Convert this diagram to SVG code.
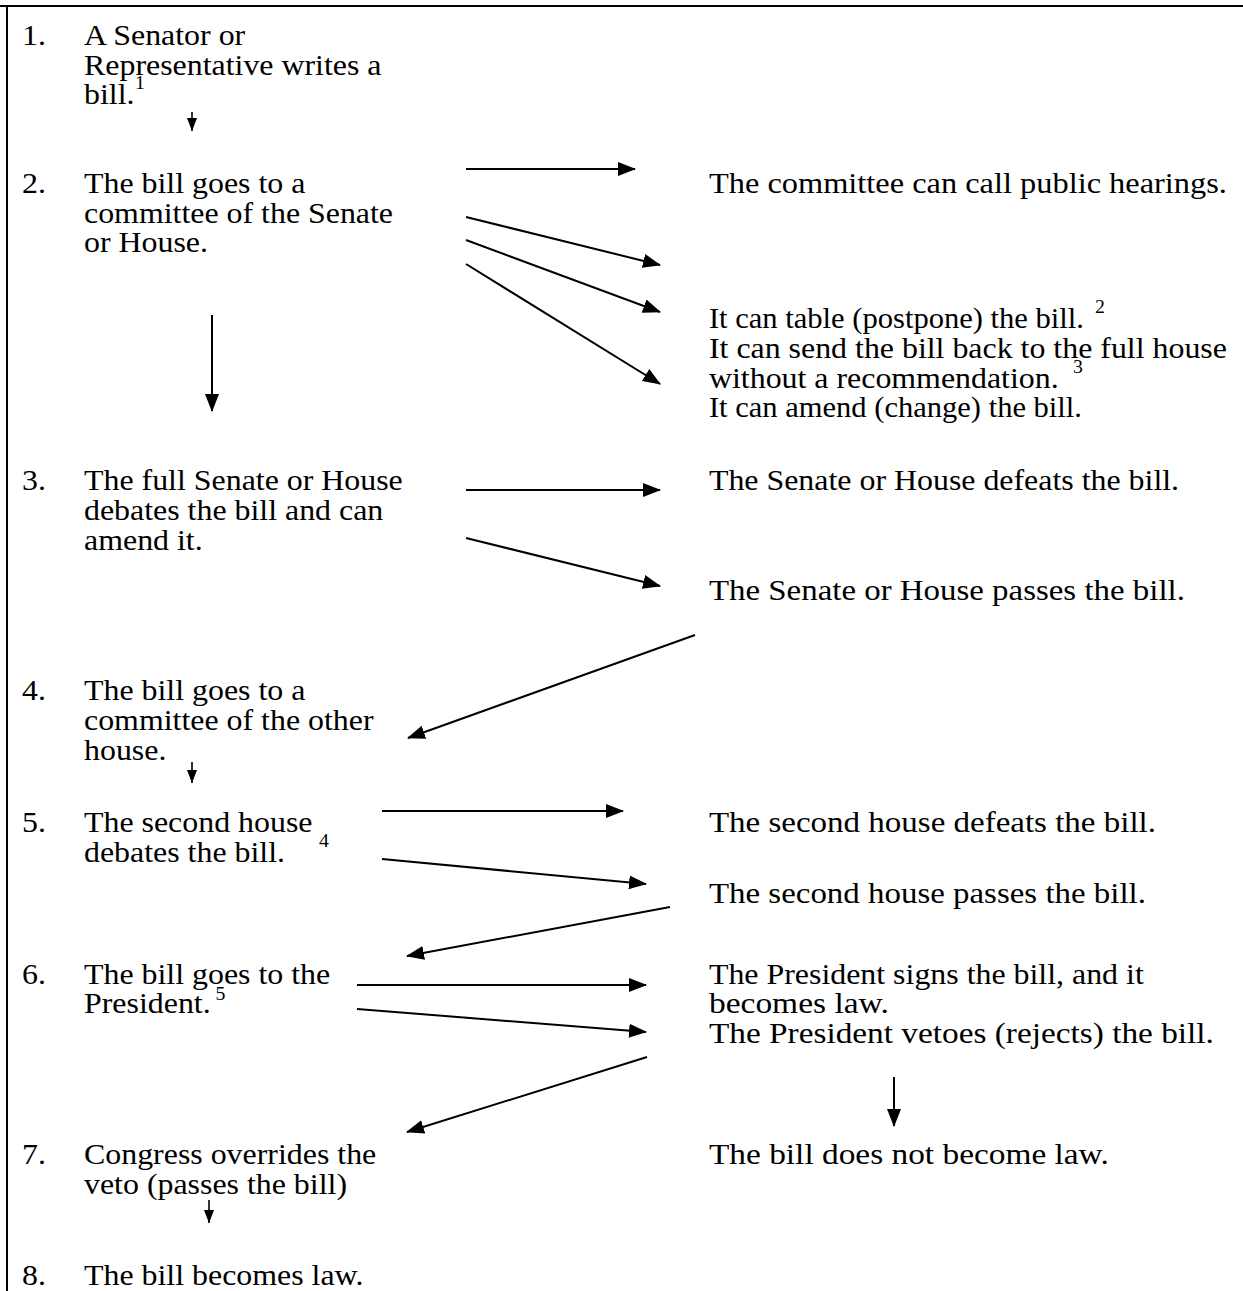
<svg xmlns="http://www.w3.org/2000/svg" width="1243" height="1291" viewBox="0 0 1243 1291">
<style>
text{font-family:"Liberation Serif","Times New Roman",serif;font-size:29px;fill:#000}
.sup{font-size:18px}
.c line{stroke:#000;stroke-width:2;fill:none}
.c line.small{stroke-width:1.6}
.big{marker-end:url(#ah)}
.small{marker-end:url(#as)}
</style>
<defs>
<marker id="ah" markerUnits="userSpaceOnUse" markerWidth="18" markerHeight="16" refX="17" refY="7" orient="auto" viewBox="0 0 18 14">
<path d="M0,0 L18,7 L0,14 Z" fill="#000"/>
</marker>
<marker id="as" markerUnits="userSpaceOnUse" markerWidth="13" markerHeight="12" refX="13" refY="5" orient="auto" viewBox="0 0 13 10">
<path d="M0,0 L13,5 L0,10 Z" fill="#000"/>
</marker>
</defs>
<rect width="1243" height="1291" fill="#fff"/>
<g id="frame">
<line x1="0" y1="6" x2="1243" y2="6" stroke="#000" stroke-width="2"/>
<line x1="7" y1="5" x2="7" y2="1291" stroke="#000" stroke-width="2"/>
</g>
<g id="text-layer" transform="scale(1.1 1)">
<g id="step1">
<text x="20" y="45">1.</text>
<text x="76.4" y="45">A Senator or</text>
<text x="76.4" y="75">Representative writes a</text>
<text x="76.4" y="104">bill.</text>
<text class="sup" x="122.7" y="89">1</text>
</g>
<g id="step2">
<text x="20" y="193">2.</text>
<text x="76.4" y="193">The bill goes to a</text>
<text x="76.4" y="223">committee of the Senate</text>
<text x="76.4" y="252">or House.</text>
</g>
<g id="hearings"><text x="644.5" y="193" textLength="470.9" lengthAdjust="spacingAndGlyphs">The committee can call public hearings.</text></g>
<g id="committee-options">
<text x="644.5" y="328" textLength="340.9" lengthAdjust="spacingAndGlyphs">It can table (postpone) the bill.</text>
<text class="sup" x="995.5" y="313">2</text>
<text x="644.5" y="358">It can send the bill back to the full house</text>
<text x="644.5" y="388">without a recommendation.</text>
<text class="sup" x="975.5" y="373">3</text>
<text x="644.5" y="417" textLength="339.1" lengthAdjust="spacingAndGlyphs">It can amend (change) the bill.</text>
</g>
<g id="step3">
<text x="20" y="490">3.</text>
<text x="76.4" y="490">The full Senate or House</text>
<text x="76.4" y="520">debates the bill and can</text>
<text x="76.4" y="550">amend it.</text>
</g>
<g id="defeat1"><text x="644.5" y="490">The Senate or House defeats the bill.</text></g>
<g id="pass1"><text x="644.5" y="600" textLength="432.7" lengthAdjust="spacingAndGlyphs">The Senate or House passes the bill.</text></g>
<g id="step4">
<text x="20" y="700">4.</text>
<text x="76.4" y="700">The bill goes to a</text>
<text x="76.4" y="730">committee of the other</text>
<text x="76.4" y="760">house.</text>
</g>
<g id="step5">
<text x="20" y="832">5.</text>
<text x="76.4" y="832">The second house</text>
<text x="76.4" y="862">debates the bill.</text>
<text class="sup" x="290" y="847">4</text>
</g>
<g id="defeat2"><text x="644.5" y="832" textLength="406.4" lengthAdjust="spacingAndGlyphs">The second house defeats the bill.</text></g>
<g id="pass2"><text x="644.5" y="903" textLength="397.3" lengthAdjust="spacingAndGlyphs">The second house passes the bill.</text></g>
<g id="step6">
<text x="20" y="984">6.</text>
<text x="76.4" y="984">The bill goes to the</text>
<text x="76.4" y="1013">President.</text>
<text class="sup" x="196" y="1000">5</text>
</g>
<g id="signs">
<text x="644.5" y="984">The President signs the bill, and it</text>
<text x="644.5" y="1013" textLength="163.6" lengthAdjust="spacingAndGlyphs">becomes law.</text>
</g>
<g id="vetoes"><text x="644.5" y="1043" textLength="459.1" lengthAdjust="spacingAndGlyphs">The President vetoes (rejects) the bill.</text></g>
<g id="step7">
<text x="20" y="1164">7.</text>
<text x="76.4" y="1164">Congress overrides the</text>
<text x="76.4" y="1194">veto (passes the bill)</text>
</g>
<g id="notlaw"><text x="644.5" y="1164" textLength="363.6" lengthAdjust="spacingAndGlyphs">The bill does not become law.</text></g>
<g id="step8">
<text x="20" y="1285">8.</text>
<text x="76.4" y="1285">The bill becomes law.</text>
</g>
</g>
<g id="connectors" class="c">
<line class="small" x1="192" y1="112" x2="192" y2="131"/>
<line class="big" x1="466" y1="169" x2="635" y2="169"/>
<line class="big" x1="466" y1="217" x2="660" y2="265"/>
<line class="big" x1="466" y1="240" x2="660" y2="312"/>
<line class="big" x1="466" y1="264" x2="660" y2="384"/>
<line class="big" x1="212" y1="315" x2="212" y2="411"/>
<line class="big" x1="466" y1="490" x2="660" y2="490"/>
<line class="big" x1="466" y1="538" x2="660" y2="586"/>
<line class="big" x1="695" y1="635" x2="408" y2="738"/>
<line class="small" x1="192" y1="762" x2="192" y2="783"/>
<line class="big" x1="382" y1="811" x2="623" y2="811"/>
<line class="big" x1="382" y1="859" x2="646" y2="884"/>
<line class="big" x1="670" y1="907" x2="407" y2="956"/>
<line class="big" x1="357" y1="985" x2="646" y2="985"/>
<line class="big" x1="357" y1="1009" x2="646" y2="1032"/>
<line class="big" x1="894" y1="1077" x2="894" y2="1126"/>
<line class="big" x1="647" y1="1057" x2="407" y2="1132"/>
<line class="small" x1="209" y1="1200" x2="209" y2="1223"/>
</g>
</svg>
